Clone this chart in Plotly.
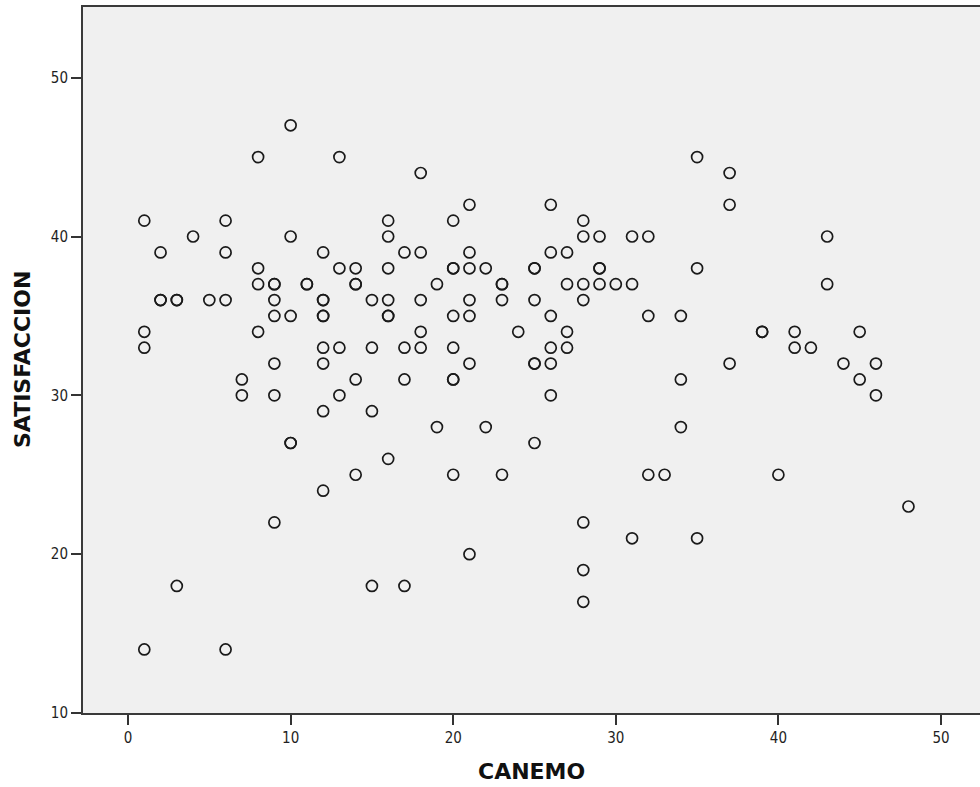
import plotly.graph_objects as go

# CANEMO vs SATISFACCION observations (repeated pairs are listed twice)
canemo = [
    10, 8, 1, 6, 4, 10, 2, 6, 8, 8, 9, 9, 11, 11, 2, 2, 3, 3, 5, 6, 9, 9, 10, 1, 8, 1,
    13, 18, 21, 16, 20, 16, 12, 17, 18, 21, 13, 14, 16, 20, 20, 21, 22, 25, 25,
    14, 14, 19, 23, 23, 12, 12, 15, 16, 18, 21, 23, 25, 12, 12, 16, 16, 20, 21,
    18, 24, 12, 13, 15, 17, 18, 20,
    35, 37, 26, 37, 28, 28, 29, 31, 32, 26, 27, 29, 29, 35, 27, 28, 29, 30, 31,
    28, 26, 32, 34, 27, 26, 27,
    43, 43, 39, 39, 41, 45, 41, 42,
    9, 7, 7, 9, 10, 10, 9, 3, 1, 6,
    12, 21, 25, 25, 14, 17, 20, 20, 13, 12, 15, 19, 22, 25, 16, 14, 20, 23, 12,
    21, 15, 17,
    26, 37, 34, 26, 34, 32, 33, 28, 31, 35, 28, 28,
    44, 46, 45, 46, 40, 48,
]
satisfaccion = [
    47, 45, 41, 41, 40, 40, 39, 39, 38, 37, 37, 37, 37, 37, 36, 36, 36, 36, 36, 36, 36, 35, 35, 34, 34, 33,
    45, 44, 42, 41, 41, 40, 39, 39, 39, 39, 38, 38, 38, 38, 38, 38, 38, 38, 38,
    37, 37, 37, 37, 37, 36, 36, 36, 36, 36, 36, 36, 36, 35, 35, 35, 35, 35, 35,
    34, 34, 33, 33, 33, 33, 33, 33,
    45, 44, 42, 42, 41, 40, 40, 40, 40, 39, 39, 38, 38, 38, 37, 37, 37, 37, 37,
    36, 35, 35, 35, 34, 33, 33,
    40, 37, 34, 34, 34, 34, 33, 33,
    32, 31, 30, 30, 27, 27, 22, 18, 14, 14,
    32, 32, 32, 32, 31, 31, 31, 31, 30, 29, 29, 28, 28, 27, 26, 25, 25, 25, 24,
    20, 18, 18,
    32, 32, 31, 30, 28, 25, 25, 22, 21, 21, 19, 17,
    32, 32, 31, 30, 25, 23,
]

x_ticks = [0, 10, 20, 30, 40, 50]
y_ticks = [10, 20, 30, 40, 50]
x_title = "CANEMO"
y_title = "SATISFACCION"

tick_font = dict(family="DejaVu Sans Condensed, Liberation Sans Narrow, Arial", size=15, color="#1f1f24")
title_font = dict(family="DejaVu Sans, Arial", size=22, color="#111111")

fig = go.Figure(
    go.Scatter(
        x=canemo,
        y=satisfaccion,
        mode="markers",
        marker=dict(symbol="circle-open", size=11, color="#1a1a1a", line=dict(width=1.7, color="#1a1a1a")),
        hoverinfo="x+y",
    )
)

fig.update_layout(
    width=980,
    height=787,
    margin=dict(l=83, r=0, t=7, b=74),
    paper_bgcolor="white",
    plot_bgcolor="#f0f0f0",
    showlegend=False,
    annotations=[
        dict(text=f"<b>{x_title}</b>", xref="paper", yref="paper", x=0.5, y=0,
             xanchor="center", yanchor="middle", yshift=-58, showarrow=False, font=title_font),
        dict(text=f"<b>{y_title}</b>", xref="paper", yref="paper", x=0, y=0.5,
             xanchor="center", yanchor="middle", xshift=-61, textangle=-90, showarrow=False, font=title_font),
    ],
)

fig.update_xaxes(
    range=[-2.77, 52.4],
    tickvals=x_ticks,
    ticks="outside",
    ticklen=10,
    tickwidth=1.5,
    tickcolor="#333333",
    showgrid=False,
    zeroline=False,
    showline=True,
    linewidth=2,
    linecolor="#3a3a3a",
    mirror=True,
    tickfont=tick_font,
)

fig.update_yaxes(
    range=[10, 54.45],
    tickvals=y_ticks,
    ticks="outside",
    ticklen=10,
    tickwidth=1.5,
    tickcolor="#333333",
    showgrid=False,
    zeroline=False,
    showline=True,
    linewidth=2,
    linecolor="#3a3a3a",
    mirror=False,
    tickfont=tick_font,
)

fig.write_html("out.html")
